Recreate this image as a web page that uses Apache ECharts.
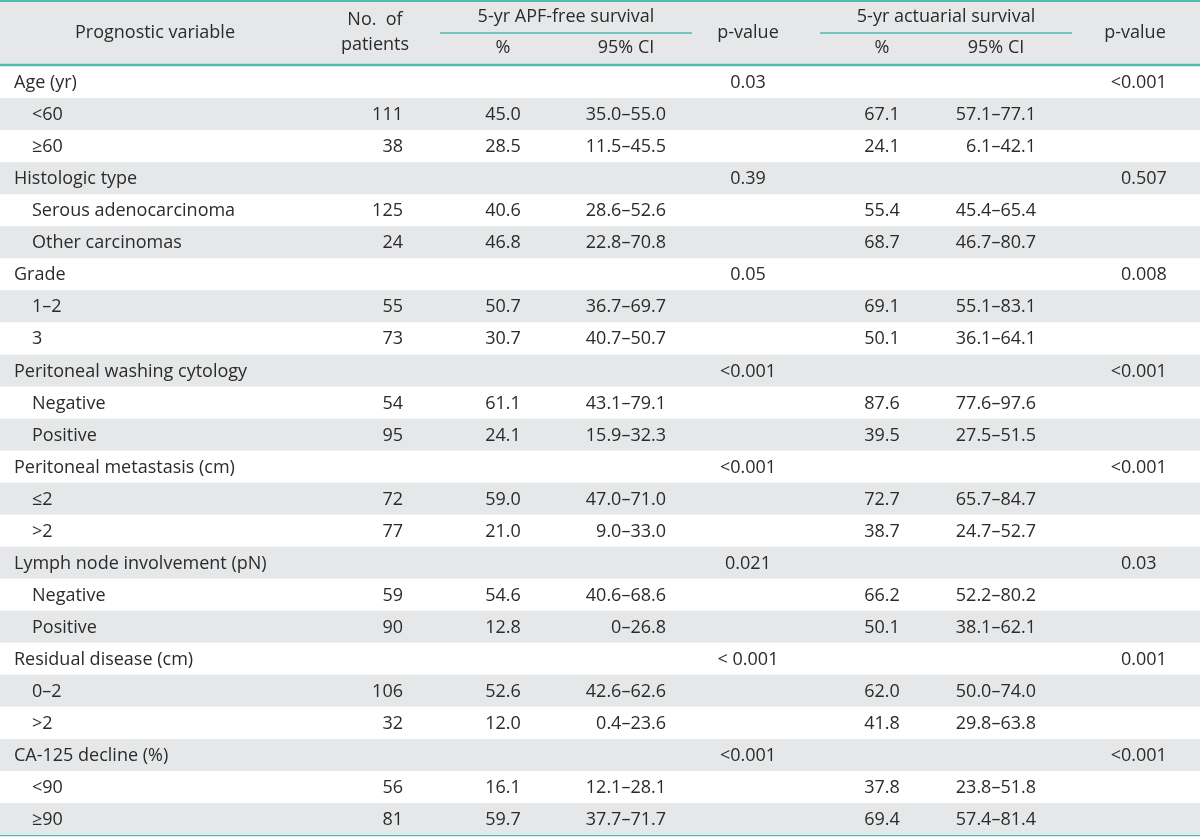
<!DOCTYPE html>
<html>
<head>
<meta charset="utf-8">
<script src="https://cdn.jsdelivr.net/npm/echarts@6/dist/echarts.min.js"></script>
<style>
  html, body { margin: 0; padding: 0; background: #ffffff; }
  #chart { width: 1200px; height: 837px; }
</style>
</head>
<body>
<div id="chart"></div>
<script>
// ---- Data ----
const rowLabels = [
  'Age (yr)', '<60', '\u226560',
  'Histologic type', 'Serous adenocarcinoma', 'Other carcinomas',
  'Grade', '1\u20132', '3',
  'Peritoneal washing cytology', 'Negative', 'Positive',
  'Peritoneal metastasis (cm)', '\u22642', '>2',
  'Lymph node involvement (pN)', 'Negative', 'Positive',
  'Residual disease (cm)', '0\u20132', '>2',
  'CA-125 decline (%)', '<90', '\u226590'
];
const isGroup = [1,0,0, 1,0,0, 1,0,0, 1,0,0, 1,0,0, 1,0,0, 1,0,0, 1,0,0];
const patients = [null,111,38, null,125,24, null,55,73, null,54,95, null,72,77, null,59,90, null,106,32, null,56,81];
const apfPct = [null,45.0,28.5, null,40.6,46.8, null,50.7,30.7, null,61.1,24.1, null,59.0,21.0, null,54.6,12.8, null,52.6,12.0, null,16.1,59.7];
const apfCI = [null,'35.0\u201355.0','11.5\u201345.5', null,'28.6\u201352.6','22.8\u201370.8', null,'36.7\u201369.7','40.7\u201350.7',
  null,'43.1\u201379.1','15.9\u201332.3', null,'47.0\u201371.0','9.0\u201333.0', null,'40.6\u201368.6','0\u201326.8',
  null,'42.6\u201362.6','0.4\u201323.6', null,'12.1\u201328.1','37.7\u201371.7'];
const apfP = ['0.03',null,null, '0.39',null,null, '0.05',null,null, '<0.001',null,null, '<0.001',null,null, '0.021',null,null, '< 0.001',null,null, '<0.001',null,null];
const actPct = [null,67.1,24.1, null,55.4,68.7, null,69.1,50.1, null,87.6,39.5, null,72.7,38.7, null,66.2,50.1, null,62.0,41.8, null,37.8,69.4];
const actCI = [null,'57.1\u201377.1','6.1\u201342.1', null,'45.4\u201365.4','46.7\u201380.7', null,'55.1\u201383.1','36.1\u201364.1',
  null,'77.6\u201397.6','27.5\u201351.5', null,'65.7\u201384.7','24.7\u201352.7', null,'52.2\u201380.2','38.1\u201362.1',
  null,'50.0\u201374.0','29.8\u201363.8', null,'23.8\u201351.8','57.4\u201381.4'];
const actP = ['<0.001',null,null, '0.507',null,null, '0.008',null,null, '<0.001',null,null, '<0.001',null,null, '0.03',null,null, '0.001',null,null, '<0.001',null,null];

const headerTexts = {
  variable: 'Prognostic variable',
  patients1: 'No.  of',
  patients2: 'patients',
  apf: '5-yr APF-free survival',
  act: '5-yr actuarial survival',
  pct: '%',
  ci: '95% CI',
  p: 'p-value'
};

// ---- Style ----
const FONT = '"Open Sans", "Noto Sans", sans-serif';
const FS = 18;
const TXT = '#2b2b2b';
const TEAL = '#52b9ae';
const GRAY = '#e6e7e8';
const HEADER_H = 65;

const chart = echarts.init(document.getElementById('chart'), null, { renderer: 'canvas' });

function txt(x, y, text, align) {
  return {
    type: 'text',
    style: { x: x, y: y, text: text, textAlign: align, textVerticalAlign: 'middle',
      font: FS + 'px ' + FONT, fill: TXT }
  };
}

function renderRow(params, api) {
  const i = api.value(1);
  const yc = api.coord([0, i])[1] + 1;
  const h = api.size([0, 1])[1];
  const X = v => api.coord([v, i])[0];
  const children = [];
  if (i % 2 === 1) {
    children.push({ type: 'rect', shape: { x: X(0), y: yc - 1 - h / 2, width: X(1200) - X(0), height: h }, style: { fill: GRAY } });
  }
  children.push(txt(isGroup[i] ? X(14) : X(32), yc, rowLabels[i], 'left'));
  if (patients[i] != null) children.push(txt(X(403), yc, String(patients[i]), 'right'));
  if (apfPct[i] != null) children.push(txt(X(503), yc, apfPct[i].toFixed(1), 'center'));
  if (apfCI[i] != null) children.push(txt(X(666), yc, apfCI[i], 'right'));
  if (apfP[i] != null) children.push(txt(X(748), yc, apfP[i], 'center'));
  if (actPct[i] != null) children.push(txt(X(882), yc, actPct[i].toFixed(1), 'center'));
  if (actCI[i] != null) children.push(txt(X(1036), yc, actCI[i], 'right'));
  if (actP[i] != null) {
    const s = actP[i];
    if (s.charAt(0) === '<') {
      children.push(txt(X(1121), yc, '<', 'right'));
      children.push(txt(X(1121), yc, s.slice(1), 'left'));
    } else {
      children.push(txt(X(1121), yc, s, 'left'));
    }
  }
  return { type: 'group', children: children };
}

function htxt(x, y, text, align) {
  return { type: 'text', x: 0, y: 0, silent: true,
    style: { x: x, y: y, text: text, textAlign: align || 'center', textVerticalAlign: 'middle',
      font: FS + 'px ' + FONT, fill: TXT } };
}
function hline(x1, y, x2, w) {
  return { type: 'line', silent: true, shape: { x1: x1, y1: y, x2: x2, y2: y }, style: { stroke: TEAL, lineWidth: w } };
}

const option = {
  animation: false,
  grid: { left: 0, right: 0, top: HEADER_H + 1, bottom: 2, containLabel: false },
  xAxis: { type: 'value', min: 0, max: 1200, show: false },
  yAxis: { type: 'category', data: rowLabels, inverse: true, show: false },
  graphic: [
    { type: 'rect', silent: true, z: -1, shape: { x: 0, y: 0, width: 1200, height: HEADER_H }, style: { fill: GRAY } },
    hline(0, 1, 1200, 2),
    hline(0, HEADER_H, 1200, 2.5),
    hline(0, 835, 1200, 2.5),
    hline(440, 33, 692, 1.5),
    hline(820, 33, 1072, 1.5),
    htxt(155, 33, headerTexts.variable),
    htxt(375, 20, headerTexts.patients1),
    htxt(375, 45, headerTexts.patients2),
    htxt(566, 17, headerTexts.apf),
    htxt(946, 17, headerTexts.act),
    htxt(503, 48, headerTexts.pct),
    htxt(626, 48, headerTexts.ci),
    htxt(882, 48, headerTexts.pct),
    htxt(996, 48, headerTexts.ci),
    htxt(748, 33, headerTexts.p),
    htxt(1135, 33, headerTexts.p)
  ],
  series: [{
    type: 'custom',
    renderItem: renderRow,
    data: rowLabels.map((l, i) => [0, i]),
    encode: { x: 0, y: 1 },
    clip: false,
    silent: true
  }]
};
chart.setOption(option);
</script>
</body>
</html>
